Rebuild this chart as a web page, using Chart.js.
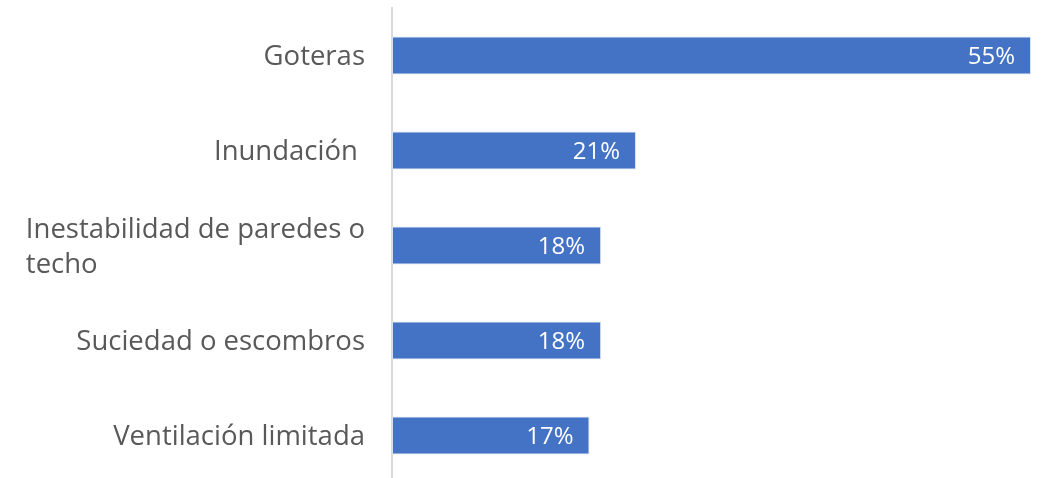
<!DOCTYPE html>
<html>
<head>
<meta charset="utf-8">
<script src="https://cdn.jsdelivr.net/npm/chart.js@4/dist/chart.umd.min.js"></script>
<style>
  html, body { margin: 0; padding: 0; background: #fff; overflow: hidden; }
  #wrap { width: 1045px; height: 483px; position: relative; }
</style>
</head>
<body>
<div id="wrap"><canvas id="myChart"></canvas></div>
<script>
const categories = [
  "Goteras",
  "Inundación ",
  ["Inestabilidad de paredes o", "techo"],
  "Suciedad o escombros",
  "Ventilación limitada",
];
const values = [55, 21, 18, 18, 17];
const valueLabels = ["55%", "21%", "18%", "18%", "17%"];

const fontFamily = "'Open Sans', 'Noto Sans', sans-serif";

// category labels: right-aligned block, wrapped lines left-aligned inside it
const categoryLabels = {
  id: "categoryLabels",
  afterDraw(chart) {
    const ctx = chart.ctx;
    const y = chart.scales.y;
    ctx.save();
    ctx.font = "27.5px " + fontFamily;
    ctx.fillStyle = "#595959";
    ctx.textBaseline = "middle";
    ctx.textAlign = "left";
    const right = chart.chartArea.left - 27;
    const lineH = 35;
    categories.forEach((lab, i) => {
      const lines = Array.isArray(lab) ? lab : [lab];
      const w = Math.max(...lines.map(l => ctx.measureText(l).width));
      const cy = y.getPixelForValue(i) + 2;
      const y0 = cy - (lines.length - 1) * lineH / 2;
      lines.forEach((l, j) => ctx.fillText(l, right - w, y0 + j * lineH));
    });
    ctx.restore();
  },
};

// value labels inside bar ends
const valueText = {
  id: "valueText",
  afterDatasetsDraw(chart) {
    const ctx = chart.ctx;
    const meta = chart.getDatasetMeta(0);
    ctx.save();
    ctx.font = "24px " + fontFamily;
    ctx.fillStyle = "#ffffff";
    ctx.textAlign = "right";
    ctx.textBaseline = "middle";
    meta.data.forEach((bar, i) => {
      ctx.fillText(valueLabels[i], bar.x - 16, bar.y + 2);
    });
    ctx.restore();
  },
};

const ctx = document.getElementById("myChart").getContext("2d");
const myChart = new Chart(ctx, {
  type: "bar",
  data: {
    labels: categories,
    datasets: [
      {
        data: values,
        backgroundColor: "#4472C4",
        borderColor: "#d6e0f2",
        borderWidth: 1,
        borderSkipped: false,
        barPercentage: 0.4,
        categoryPercentage: 1,
      },
    ],
  },
  options: {
    indexAxis: "y",
    responsive: true,
    maintainAspectRatio: false,
    animation: false,
    layout: { padding: { top: 8, right: 14, bottom: 0, left: 0 } },
    plugins: { legend: { display: false }, tooltip: { enabled: false } },
    scales: {
      x: {
        display: false,
        min: 0,
        max: 55,
      },
      y: {
        grid: { display: false },
        border: { display: true, color: "#d9d9d9", width: 2 },
        ticks: { display: false },
        afterFit(scale) { scale.width = 392; },
      },
    },
  },
  plugins: [categoryLabels, valueText],
});
</script>
</body>
</html>
